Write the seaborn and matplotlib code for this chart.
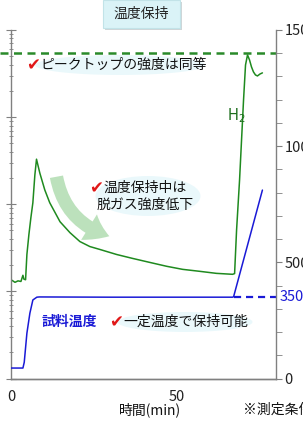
import numpy as np
import pandas as pd
import matplotlib
matplotlib.use("Agg")
import matplotlib.pyplot as plt
import seaborn as sns
from matplotlib.ticker import MultipleLocator, LogLocator, NullFormatter
from matplotlib.patches import FancyArrowPatch, Rectangle, Ellipse
import matplotlib.transforms as mtransforms

# ==========================================
# datos
# ==========================================
# H2 (eje izquierdo, log)
t_h2 = [0.3, 1.2, 2.1, 3.0, 3.6, 3.9, 4.4, 4.8, 5.4, 6.0, 6.6, 7.2, 7.7, 8.7,
        10.2, 11.7, 14.8, 17.8, 20.8, 23.8, 26.8, 31.9, 36.7, 41.9, 47.0, 51.8,
        56.9, 62.0, 66.9, 67.5, 68.1, 69.0, 69.6, 70.2, 70.8, 71.4, 72.0, 72.6,
        73.2, 73.8, 74.4, 75.2, 75.9]
i_h2 = [1.34e-11, 1.27e-11, 1.32e-11, 1.30e-11, 1.53e-11, 1.38e-11, 1.36e-11,
        2.65e-11, 4.48e-11, 7.0e-11, 1.04e-10, 2.16e-10, 3.29e-10, 2.28e-10,
        1.46e-10, 1.04e-10, 6.3e-11, 4.72e-11, 3.73e-11, 3.27e-11, 3.03e-11,
        2.65e-11, 2.39e-11, 2.15e-11, 1.94e-11, 1.79e-11, 1.70e-11, 1.61e-11,
        1.57e-11, 1.60e-11, 5.07e-11, 1.90e-10, 5.47e-10, 1.57e-9, 3.97e-9,
        5.18e-9, 4.54e-9, 3.77e-9, 3.30e-9, 3.05e-9, 2.97e-9, 3.13e-9, 3.22e-9]
pico_h2 = 5.46e-9

# temperatura de muestra (eje derecho)
t_temp = [0.0, 3.6, 4.0, 4.8, 5.7, 6.6, 7.8, 8.5, 30.0, 66.9, 67.2, 75.9]
temp = [45, 45, 70, 195, 281, 338, 350, 351, 350, 350, 352, 811]
temp_hold = 350

df_h2 = pd.DataFrame({"t": t_h2, "I": i_h2})
df_temp = pd.DataFrame({"t": t_temp, "T": temp})

# ==========================================
# figura
# ==========================================
sns.set_style("white")
plt.rcParams['font.family'] = ['Noto Sans CJK JP', 'DejaVu Sans']
plt.rcParams['axes.unicode_minus'] = False

W, H = 303, 422
fig = plt.figure(figsize=(W / 100, H / 100), dpi=100)
ax = fig.add_axes([11 / W, (H - 378.5) / H, 265 / W, (378.5 - 30) / H])
ax2 = ax.twinx()

verde = '#1f8a1f'
azul = '#1a1ad6'
gris = '#808080'

sns.lineplot(data=df_h2, x="t", y="I", ax=ax, color=verde, lw=1.1, sort=False)
ax.set_yscale('log')
ax.set_ylim(1e-12, 1e-8)
ax.set_xlim(0, 80)
ax.axhline(pico_h2, xmin=-0.042, xmax=1.0, color='#2a8a2a', lw=1.8,
           ls=(0, (3.2, 2.2)), clip_on=False)

sns.lineplot(data=df_temp, x="t", y="T", ax=ax2, color=azul, lw=1.1, sort=False)
ax2.plot([67.2, 80], [temp_hold, temp_hold], color=azul, lw=1.6, ls=(0, (3.2, 2.2)))
ax2.set_ylim(0, 1500)

# ejes
for a in (ax, ax2):
    for s in a.spines.values():
        s.set_color(gris)
        s.set_linewidth(1.0)
    a.spines['top'].set_visible(False)
    a.set_xlabel('')
    a.set_ylabel('')
ax2.spines['left'].set_visible(False)
ax.spines['right'].set_visible(False)

ax.xaxis.set_major_locator(MultipleLocator(50))
ax.xaxis.set_minor_locator(MultipleLocator(10 / 3))
ax.tick_params(axis='x', which='both', direction='out', color=gris, labelsize=10.5,
               labelcolor='#222222', pad=2)
ax.tick_params(axis='x', which='major', length=6)
ax.tick_params(axis='x', which='minor', length=4.5)

ax.yaxis.set_major_locator(LogLocator(base=10, numticks=10))
ax.yaxis.set_minor_locator(LogLocator(base=10, subs=np.arange(2, 10), numticks=10))
ax.yaxis.set_major_formatter(NullFormatter())
ax.yaxis.set_minor_formatter(NullFormatter())
ax.tick_params(axis='y', which='major', direction='inout', length=7, color=gris)
ax.tick_params(axis='y', which='minor', direction='inout', length=3.5, color=gris)

ax2.yaxis.set_major_locator(MultipleLocator(500))
ax2.yaxis.set_minor_locator(MultipleLocator(100))
ax2.tick_params(axis='y', which='both', direction='out', color=gris, length=4,
                labelsize=10.5, labelcolor='#222222', pad=2)

# ==========================================
# textos
# ==========================================
def fx(x):
    return x / W

def fy(y):
    return 1 - y / H

fs = 10
rojo = '#e01818'

# caja del título con sombra
fig.patches.append(Rectangle((fx(105), fy(30)), fx(77), 28 / H, transform=fig.transFigure,
                             fc='#cfd6d8', ec='none'))
fig.patches.append(Rectangle((fx(103), fy(28)), fx(77), 28 / H, transform=fig.transFigure,
                             fc='#daf3f7', ec='#c2e3e8', lw=0.8))
fig.text(fx(141), fy(14), '温度保持', fontsize=fs, ha='center', va='center', color='#222222')

# brillo celeste detrás de los comentarios
for (cx, cy, w, h) in [(120, 65, 170, 20), (148, 196, 105, 40), (185, 322, 135, 20)]:
    fig.patches.append(Ellipse((fx(cx), fy(cy)), fx(w), h / H, transform=fig.transFigure,
                               fc='#e2f6fa', ec='none', alpha=0.7, zorder=0.5))

fig.text(fx(26), fy(65), '✔', fontsize=12, color=rojo, ha='left', va='center',
         family=['DejaVu Sans'], fontweight='bold')
fig.text(fx(40), fy(65), 'ピークトップの強度は同等', fontsize=fs, color='#111111',
         ha='left', va='center')

fig.text(fx(227), fy(116), 'H$_2$', fontsize=10.5, color='#1d6e1d', ha='left', va='center',
         family=['DejaVu Sans'])

fig.text(fx(89), fy(188), '✔', fontsize=12, color=rojo, ha='left', va='center',
         family=['DejaVu Sans'], fontweight='bold')
fig.text(fx(103), fy(188), '温度保持中は', fontsize=fs, color='#111111',
         ha='left', va='center')
fig.text(fx(97), fy(205), '脱ガス強度低下', fontsize=fs, color='#111111',
         ha='left', va='center')

fig.text(fx(42), fy(322), '試料温度', fontsize=fs, color=azul, ha='left', va='center',
         fontweight='bold')
fig.text(fx(109), fy(322), '✔', fontsize=12, color=rojo, ha='left', va='center',
         family=['DejaVu Sans'], fontweight='bold')
fig.text(fx(123), fy(322), '一定温度で保持可能', fontsize=fs, color='#111111',
         ha='left', va='center')

tr = mtransforms.blended_transform_factory(ax2.transAxes, ax2.transData)
ax2.text(1.012, temp_hold, '350℃', transform=tr, fontsize=10.5, color=azul,
         ha='left', va='center', clip_on=False)

fig.text(fx(150), fy(410), '時間(min)', fontsize=fs, color='#111111', ha='center', va='center')
fig.text(fx(243), fy(410), '※測定条件は', fontsize=fs, color='#111111', ha='left', va='center')

# flecha curva (descenso)
flecha = FancyArrowPatch(posA=(fx(56), fy(174)), posB=(fx(112), fy(237)),
                         transform=fig.transFigure,
                         connectionstyle='arc3,rad=0.32',
                         arrowstyle='simple,tail_width=0.6,head_width=1.35,head_length=1.0',
                         mutation_scale=16, fc='#a6d8a6', ec='none', alpha=0.75)
fig.patches.append(flecha)

fig.savefig('out.png', dpi=100)
